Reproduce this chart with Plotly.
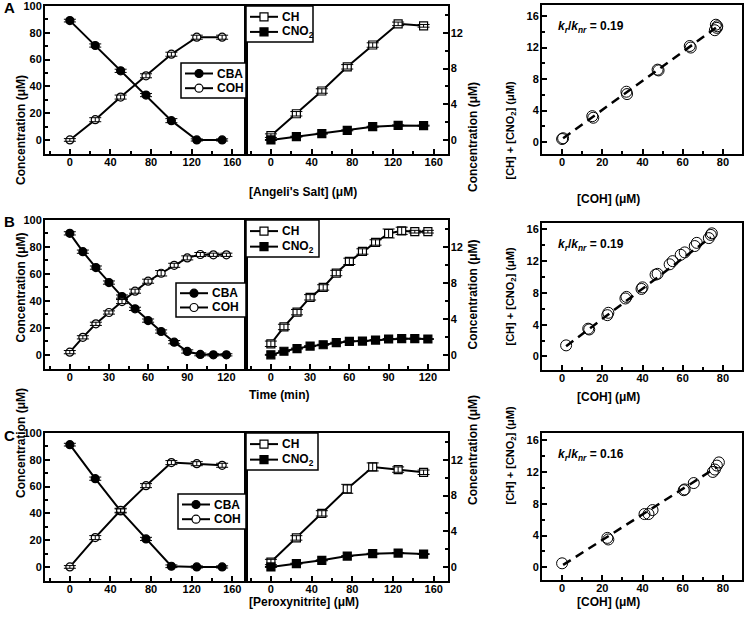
import plotly.graph_objects as go

W, H = 745, 619
FONT = "Liberation Sans, Arial, sans-serif"

# ---------------- DATA ----------------
# Panel A: Angeli's salt titration
a_x = [0, 25, 50, 75, 100, 125, 150]
a_cba = [89.1, 70.5, 51.6, 33.5, 14.4, 0.0, 0.0]
a_cba_err = [1.0, 1.2, 1.2, 1.2, 1.5, 0.8, 0.8]
a_coh = [0.0, 15.1, 32.0, 47.9, 64.0, 76.7, 76.7]
a_coh_err = [1.0, 1.5, 1.5, 1.5, 1.5, 1.5, 1.5]
a_ch = [0.48, 2.93, 5.48, 8.19, 10.63, 13.0, 12.78]
a_ch_err = [0.2, 0.25, 0.25, 0.25, 0.25, 0.2, 0.15]
a_cno2 = [0.0, 0.37, 0.70, 1.07, 1.48, 1.63, 1.60]
a_cno2_err = [0.05, 0.05, 0.05, 0.05, 0.05, 0.05, 0.05]
a_sc_x = [0, 0.5, 15, 15.5, 32, 32.3, 47.5, 48, 63.5, 64, 76, 76.5, 77, 77.2]
a_sc_y = [0.4, 0.5, 3.3, 3.1, 6.4, 6.1, 9.2, 9.1, 12.2, 12.0, 14.2, 14.9, 14.5, 14.7]
a_fit_x = [0.5, 76.5]
a_fit_y = [0.5, 14.5]
a_ratio = "0.19"

# Panel B: time course
b_x = [0, 10, 20, 30, 40, 50, 60, 70, 80, 90, 100, 110, 120]
b_cba = [90.1, 76.5, 64.7, 53.6, 43.2, 34.1, 25.4, 17.3, 9.4, 2.5, 0.3, 0.0, 0.0]
b_cba_err = [1.2, 1.2, 1.2, 1.2, 1.2, 1.2, 1.2, 1.2, 1.2, 1.2, 1.0, 0.8, 0.8]
b_coh = [2.0, 13.0, 23.0, 31.4, 39.5, 47.2, 54.6, 60.5, 66.4, 71.9, 74.4, 74.2, 74.2]
b_coh_err = [1.2, 1.2, 1.2, 1.2, 1.5, 1.5, 1.5, 2.0, 1.5, 1.5, 1.5, 1.2, 1.2]
b_ch = [1.23, 3.1, 4.75, 6.4, 7.5, 9.1, 10.4, 11.5, 12.5, 13.5, 13.8, 13.7, 13.7]
b_ch_err = [0.3, 0.3, 0.3, 0.3, 0.3, 0.3, 0.35, 0.3, 0.3, 0.5, 0.4, 0.15, 0.15]
b_cno2 = [0.0, 0.4, 0.7, 0.97, 1.12, 1.35, 1.5, 1.53, 1.64, 1.76, 1.8, 1.8, 1.76]
b_cno2_err = [0.05] * 13
b_sc_x = [2, 13, 13.5, 22.5, 23, 31.5, 32, 39.5, 40, 46.5, 47.5, 53.5, 55, 59, 61, 66, 67, 73, 74, 74.5]
b_sc_y = [1.4, 3.5, 3.4, 5.2, 5.5, 7.3, 7.5, 8.5, 8.7, 10.3, 10.4, 11.6, 12.0, 12.8, 13.1, 13.9, 14.3, 14.9, 15.3, 15.5]
b_fit_x = [2, 74]
b_fit_y = [1.3, 15.0]
b_ratio = "0.19"

# Panel C: peroxynitrite titration
c_x = [0, 25, 50, 75, 100, 125, 150]
c_cba = [91.3, 65.9, 41.8, 20.9, 0.5, 0.0, 0.0]
c_cba_err = [1.0, 1.2, 1.5, 1.2, 1.0, 0.8, 0.8]
c_coh = [0.0, 21.9, 42.3, 60.7, 77.9, 77.1, 75.9]
c_coh_err = [1.0, 1.5, 1.5, 1.5, 1.5, 1.5, 1.5]
c_ch = [0.55, 3.25, 6.0, 8.75, 11.2, 10.9, 10.6]
c_ch_err = [0.3, 0.25, 0.3, 0.5, 0.45, 0.3, 0.25]
c_cno2 = [0.0, 0.37, 0.74, 1.22, 1.48, 1.55, 1.44]
c_cno2_err = [0.05] * 7
c_sc_x = [0, 22.5, 23, 41, 43, 45, 60.5, 61, 65.5, 75, 76, 77, 78]
c_sc_y = [0.5, 3.7, 3.5, 6.7, 6.7, 7.2, 9.7, 9.8, 10.6, 12.0, 12.3, 12.8, 13.2]
c_fit_x = [0.5, 77]
c_fit_y = [0.3, 12.6]
c_ratio = "0.16"

left_names = ["CBA", "COH"]
mid_names = ["CH", "CNO<sub>2</sub>"]
x_titles = ["[Angeli's Salt] (\u03bcM)", "Time (min)", "[Peroxynitrite] (\u03bcM)"]
letters = ["A", "B", "C"]

# ---------------- LAYOUT GEOMETRY (pixels) ----------------
def fx(px):
    return px / W

def fy(py):
    return 1 - py / H

row_geo = [dict(top=6, bot=154, stop=5, sbot=154, xt=183, st=190),
           dict(top=220, bot=369, stop=223, sbot=370, xt=395, st=397),
           dict(top=433, bot=581, stop=433, sbot=580, xt=611, st=611)]
LEFT = (45, 246)
MID = (246, 447.5)
SCAT = (542, 742)

x_ranges = [[-24.5, 173.5], [-19, 135], [-24.5, 173.5]]
x_dticks = [(40, 20), (30, 15), (40, 20)]
scat_yr = [[-1.5, 17.4], [-1.7, 16.8], [-1.6, 16.9]]

# legend boxes (x0, y0, x1, y1) in pixels
legend_boxes = [
    [(181, 63, 246, 98), (246, 6, 313, 42)],
    [(176, 283, 246, 317), (246, 220, 319, 257)],
    [(178, 494, 246, 529), (246, 433, 318, 470)],
]

rows = [
    dict(x=a_x, cba=a_cba, cba_e=a_cba_err, coh=a_coh, coh_e=a_coh_err, ch=a_ch, ch_e=a_ch_err,
         cno2=a_cno2, cno2_e=a_cno2_err, sx=a_sc_x, sy=a_sc_y, fx=a_fit_x, fy=a_fit_y, ratio=a_ratio),
    dict(x=b_x, cba=b_cba, cba_e=b_cba_err, coh=b_coh, coh_e=b_coh_err, ch=b_ch, ch_e=b_ch_err,
         cno2=b_cno2, cno2_e=b_cno2_err, sx=b_sc_x, sy=b_sc_y, fx=b_fit_x, fy=b_fit_y, ratio=b_ratio),
    dict(x=c_x, cba=c_cba, cba_e=c_cba_err, coh=c_coh, coh_e=c_coh_err, ch=c_ch, ch_e=c_ch_err,
         cno2=c_cno2, cno2_e=c_cno2_err, sx=c_sc_x, sy=c_sc_y, fx=c_fit_x, fy=c_fit_y, ratio=c_ratio),
]

fig = go.Figure()
layout = dict(width=W, height=H, margin=dict(l=0, r=0, t=0, b=0, pad=0, autoexpand=False), autosize=False,
              paper_bgcolor="white", plot_bgcolor="white", showlegend=False,
              font=dict(family=FONT, color="black"))

tickfont = dict(family=FONT, size=11, color="black", weight="bold")


def axis_common(rng, dtick, minor_dtick, standoff):
    return dict(range=rng, showline=True, linecolor="black", linewidth=2, mirror=True,
                showgrid=False, zeroline=False, ticks="inside", tickcolor="black",
                ticklen=5, tickwidth=1.5, tick0=0, dtick=dtick, tickfont=tickfont,
                automargin=False, ticklabeloverflow="allow", ticklabelstandoff=standoff,
                minor=dict(ticks="inside", ticklen=3, tickwidth=1.5, tickcolor="black",
                           dtick=minor_dtick, tick0=0))


def ax_name(kind, n):
    return kind + "axis" + ("" if n == 1 else str(n))


def ref(kind, n):
    return kind + ("" if n == 1 else str(n))


def data_trace(x, y, xa, ya, name, symbol, fill):
    return go.Scatter(x=x, y=y, xaxis=xa, yaxis=ya, name=name, mode="lines+markers",
                      line=dict(color="black", width=2),
                      marker=dict(symbol=symbol, size=8, color=fill,
                                  line=dict(color="black", width=1.2)),
                      showlegend=False, hoverinfo="skip")


def err_trace(x, y, e, xa, ya):
    return go.Scatter(x=x, y=y, xaxis=xa, yaxis=ya, mode="markers", showlegend=False,
                      marker=dict(size=2, color="rgba(0,0,0,0)"),
                      error_y=dict(type="data", array=e, color="black", thickness=1, width=6),
                      hoverinfo="skip")


shapes = []
annotations = []


def draw_legend(box, names, shape_kind, fills):
    x0, y0, x1, y1 = box
    shapes.append(dict(type="rect", xref="paper", yref="paper", x0=fx(x0), x1=fx(x1), y0=fy(y1), y1=fy(y0),
                       line=dict(color="black", width=1.5), fillcolor="white", layer="above"))
    h = y1 - y0
    centers = [y0 + 0.3 * h, y0 + 0.72 * h]
    for name, cy, fill in zip(names, centers, fills):
        shapes.append(dict(type="line", xref="paper", yref="paper", x0=fx(x0 + 4), x1=fx(x0 + 32),
                           y0=fy(cy), y1=fy(cy), line=dict(color="black", width=2), layer="above"))
        r = 4
        shapes.append(dict(type=shape_kind, xref="paper", yref="paper", x0=fx(x0 + 18 - r), x1=fx(x0 + 18 + r),
                           y0=fy(cy + r), y1=fy(cy - r), line=dict(color="black", width=1.2),
                           fillcolor=fill, layer="above"))
        annotations.append(dict(text="<b>" + name + "</b>", x=fx(x0 + 34), y=fy(cy), xref="paper", yref="paper",
                                xanchor="left", yanchor="middle", showarrow=False,
                                font=dict(family=FONT, size=12, color="black")))


for r, d in enumerate(rows):
    g = row_geo[r]
    nL, nM, nS = 3 * r + 1, 3 * r + 2, 3 * r + 3

    # Left panel
    xa, ya = ref("x", nL), ref("y", nL)
    fig.add_trace(data_trace(d["x"], d["cba"], xa, ya, left_names[0], "circle", "black"))
    fig.add_trace(data_trace(d["x"], d["coh"], xa, ya, left_names[1], "circle", "white"))
    fig.add_trace(err_trace(d["x"], d["cba"], d["cba_e"], xa, ya))
    fig.add_trace(err_trace(d["x"], d["coh"], d["coh_e"], xa, ya))
    xd, xm = x_dticks[r]
    layout[ax_name("x", nL)] = dict(axis_common(x_ranges[r], xd, xm, -3), domain=[fx(LEFT[0]), fx(LEFT[1])],
                                    anchor=ya)
    layout[ax_name("y", nL)] = dict(axis_common([-10.5, 100], 20, 10, -1), domain=[fy(g["bot"]), fy(g["top"])],
                                    anchor=xa)

    # Middle panel
    xa, ya = ref("x", nM), ref("y", nM)
    fig.add_trace(data_trace(d["x"], d["ch"], xa, ya, mid_names[0], "square", "white"))
    fig.add_trace(data_trace(d["x"], d["cno2"], xa, ya, mid_names[1], "square", "black"))
    fig.add_trace(err_trace(d["x"], d["ch"], d["ch_e"], xa, ya))
    fig.add_trace(err_trace(d["x"], d["cno2"], d["cno2_e"], xa, ya))
    layout[ax_name("x", nM)] = dict(axis_common(x_ranges[r], xd, xm, -3), domain=[fx(MID[0]), fx(MID[1])],
                                    anchor=ya)
    layout[ax_name("y", nM)] = dict(axis_common([-1.575, 15], 4, 2, -1), domain=[fy(g["bot"]), fy(g["top"])],
                                    anchor=xa, side="right")

    # Scatter panel
    xa, ya = ref("x", nS), ref("y", nS)
    fig.add_trace(go.Scatter(x=d["sx"], y=d["sy"], xaxis=xa, yaxis=ya, mode="markers", showlegend=False,
                             marker=dict(symbol="circle-open", size=11, color="black",
                                         line=dict(width=1)), hoverinfo="skip"))
    fig.add_trace(go.Scatter(x=d["fx"], y=d["fy"], xaxis=xa, yaxis=ya, mode="lines", showlegend=False,
                             line=dict(color="black", width=2.5, dash="9px,6px"), hoverinfo="skip"))
    layout[ax_name("x", nS)] = dict(axis_common([-10, 89.5], 20, 10, -3), domain=[fx(SCAT[0]), fx(SCAT[1])],
                                    anchor=ya)
    layout[ax_name("y", nS)] = dict(axis_common(scat_yr[r], 4, 2, -1), domain=[fy(g["sbot"]), fy(g["stop"])],
                                    anchor=xa)

    # Legends (drawn as boxes with symbols)
    draw_legend(legend_boxes[r][0], left_names, "circle", ["black", "white"])
    draw_legend(legend_boxes[r][1], mid_names, "rect", ["white", "black"])

    # Annotations
    mid_y = (g["top"] + g["bot"]) / 2
    annotations.append(dict(text="<b>" + letters[r] + "</b>", x=fx(2), y=fy(g["top"] + 2), xref="paper",
                            yref="paper", xanchor="left", yanchor="middle", showarrow=False,
                            font=dict(family=FONT, size=15, color="black")))
    annotations.append(dict(text="<b>Concentration (\u03bcM)</b>", x=fx(12), y=fy(mid_y - 7), xref="paper",
                            yref="paper", textangle=-90, showarrow=False,
                            font=dict(family=FONT, size=12, color="black")))
    annotations.append(dict(text="<b>Concentration (\u03bcM)</b>", x=fx(473), y=fy(mid_y), xref="paper",
                            yref="paper", textangle=-90, showarrow=False,
                            font=dict(family=FONT, size=12, color="black")))
    annotations.append(dict(text="<b>" + x_titles[r] + "</b>", x=fx(247), y=fy(g["xt"]),
                            xref="paper", yref="paper", showarrow=False,
                            font=dict(family=FONT, size=12, color="black")))
    annotations.append(dict(text="<b>[COH] (\u03bcM)</b>", x=fx(642), y=fy(g["st"]),
                            xref="paper", yref="paper", showarrow=False,
                            font=dict(family=FONT, size=12, color="black")))
    annotations.append(dict(text="<b>[CH] + [CNO<sub>2</sub>] (\u03bcM)</b>", x=fx(519),
                            y=fy((g["stop"] + g["sbot"]) / 2), xref="paper", yref="paper",
                            textangle=-90, showarrow=False,
                            font=dict(family=FONT, size=11, color="black")))
    annotations.append(dict(text="<b><i>k</i><sub><i>r</i></sub>/<i>k</i><sub><i>nr</i></sub> = "
                                 + d["ratio"] + "</b>",
                            x=fx(556), y=fy(g["stop"] + 22), xref="paper", yref="paper",
                            xanchor="left", yanchor="middle", showarrow=False,
                            font=dict(family=FONT, size=12, color="black")))

layout["annotations"] = annotations
layout["shapes"] = shapes
fig.update_layout(**layout)
fig.write_html("out.html", config={"displayModeBar": False},
               post_script="document.body.style.margin='0px';document.body.style.overflow='hidden';")
